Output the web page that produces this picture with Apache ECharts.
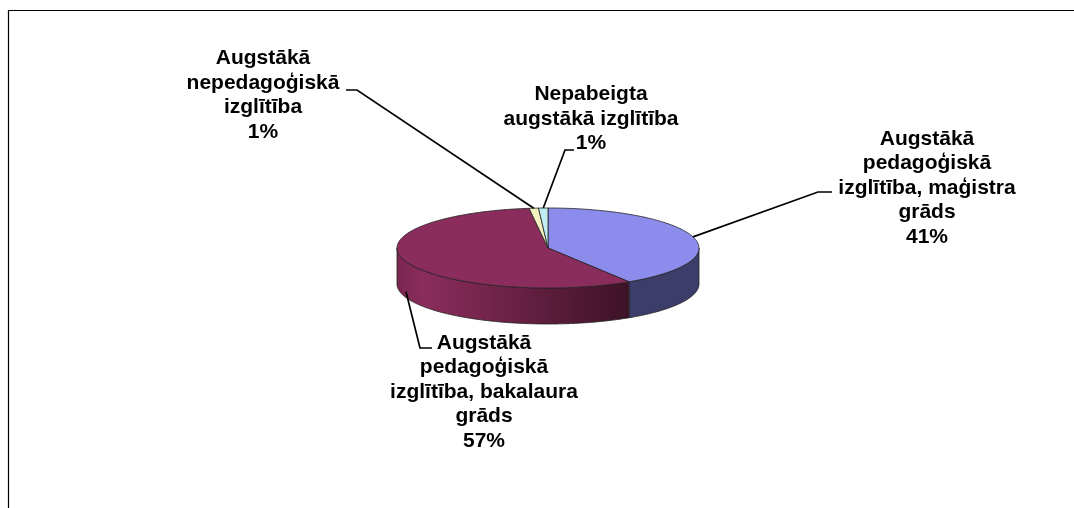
<!DOCTYPE html>
<html>
<head>
<meta charset="utf-8">
<title>Izglītība</title>
<script src="https://cdn.jsdelivr.net/npm/echarts@6/dist/echarts.min.js"></script>
<style>
  html, body { margin: 0; padding: 0; background: #fff; }
  #myChart { width: 1074px; height: 508px; }
</style>
</head>
<body>
<div id="myChart"></div>
<script>
// data
const labelNames = [
  'Augstākā\npedagoģiskā\nizglītība, maģistra\ngrāds',
  'Augstākā\npedagoģiskā\nizglītība, bakalaura\ngrāds',
  'Augstākā\nnepedagoģiskā\nizglītība',
  'Nepabeigta\naugstākā izglītība'
];
const shareValues = [41, 57, 1, 1];

// styles
const topColors = ['#8c8cec', '#8b2d5c', '#f1f1bf', '#c0eef0'];
const sideColors = [
  '#3d3d6a',
  { type: 'linear', x: 0, y: 0, x2: 1, y2: 0,
    colorStops: [{ offset: 0, color: '#7a2650' }, { offset: 0.12, color: '#8b2d5c' }, { offset: 1, color: '#3d1226' }] },
  '#a8a884',
  '#86a6a8'
];

// layout of the flattened pie
const pie = { cx: 548, cy: 248, rx: 151, ry: 40, depth: 36 };
// label centre, leader start, leader elbow (px) and how far down the side the leader ends
const labelLayout = [
  { at: [927, 188], from: [832, 192], elbow: [818, 192], drop: 0 },
  { at: [484, 392], from: [432, 348], elbow: [420, 348], drop: 30 },
  { at: [263, 95],  from: [346, 90],  elbow: [357, 90],  drop: 0 },
  { at: [591, 119], from: [574, 150], elbow: [565, 150], drop: 0 }
];

const total = shareValues.reduce((a, b) => a + b, 0);

function rim(t, dy) {
  return [pie.cx + pie.rx * Math.sin(t), pie.cy - pie.ry * Math.cos(t) + (dy || 0)];
}
function arc(a0, a1, dy) {
  const pts = [];
  const n = Math.max(2, Math.ceil(Math.abs(a1 - a0) / (Math.PI / 180)));
  for (let i = 0; i <= n; i++) pts.push(rim(a0 + (a1 - a0) * i / n, dy));
  return pts;
}

function renderItem(params, api) {
  const i = params.dataIndex;
  let before = 0;
  for (let k = 0; k < i; k++) before += shareValues[k];
  const v = api.value(0);
  const a0 = before / total * Math.PI * 2;
  const a1 = (before + v) / total * Math.PI * 2;
  const children = [];

  // front wall
  const s = Math.max(a0, Math.PI / 2);
  const e = Math.min(a1, Math.PI * 1.5);
  if (s < e) {
    const pts = arc(s, e, 0).concat(arc(e, s, pie.depth));
    children.push({
      type: 'polygon',
      shape: { points: pts },
      style: { fill: sideColors[i], stroke: '#222', lineWidth: 0.8 }
    });
  }
  // top face
  children.push({
    type: 'polygon',
    shape: { points: [[pie.cx, pie.cy]].concat(arc(a0, a1, 0)) },
    style: { fill: topColors[i], stroke: '#222', lineWidth: 0.8 }
  });

  // leader line + label
  const lay = labelLayout[i];
  const anchor = rim((a0 + a1) / 2, lay.drop);
  children.push({
    type: 'polyline',
    shape: { points: [lay.from, lay.elbow, anchor] },
    style: { stroke: '#000', lineWidth: 1.7, fill: null }
  });
  children.push({
    type: 'text',
    style: {
      text: labelNames[i] + '\n' + Math.round(v / total * 100) + '%',
      x: lay.at[0], y: lay.at[1],
      align: 'center', verticalAlign: 'middle',
      font: 'bold 21px "Liberation Sans", Arial, sans-serif',
      lineHeight: 24.5,
      fill: '#000'
    }
  });
  return { type: 'group', children: children };
}

const myChart = echarts.init(document.getElementById('myChart'), null, { renderer: 'canvas' });
myChart.setOption({
  backgroundColor: '#fff',
  animation: false,
  graphic: [{
    type: 'rect',
    shape: { x: 8.5, y: 10.5, width: 1200, height: 600 },
    style: { fill: null, stroke: '#000', lineWidth: 1.2 },
    silent: true
  }],
  series: [{
    type: 'custom',
    coordinateSystem: 'none',
    renderItem: renderItem,
    data: shareValues.map(v => [v])
  }]
});
</script>
</body>
</html>
